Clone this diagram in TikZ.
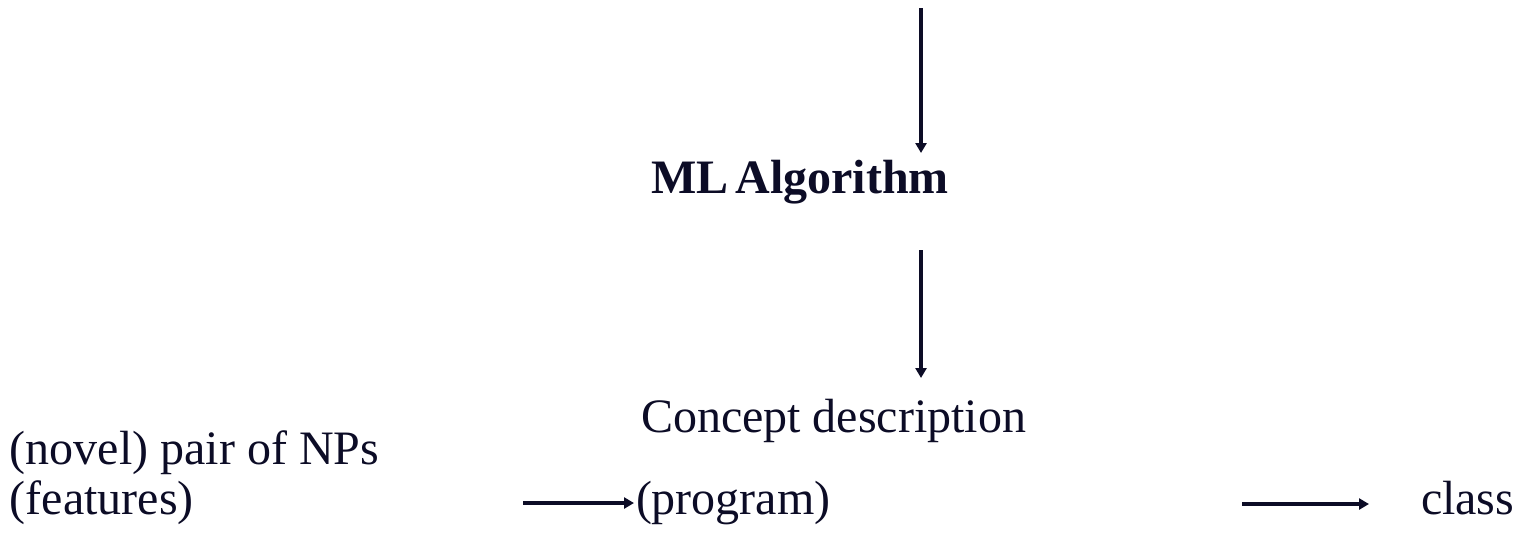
\documentclass[tikz,border=0pt]{standalone}
\usepackage{fontspec}
\setmainfont{Liberation Serif}
\usetikzlibrary{arrows.meta}
\definecolor{ink}{RGB}{12,12,38}
\begin{document}
\begin{tikzpicture}[x=0.5pt,y=-0.5pt,
  lbl/.style={inner sep=0pt,outer sep=0pt,text=ink,font=\fontsize{24}{25}\selectfont},
  conn/.style={draw=ink,line width=1.7pt,-{Triangle[length=5pt,width=5.5pt]}}]
\useasboundingbox (0,0) rectangle (1518,532);
\node[lbl,anchor=base,font=\fontsize{24}{25}\selectfont\bfseries] (ml) at (800,193) {ML\kern-0.1em\ Algorithm};
\node[lbl,anchor=base west] (concept) at (641,432) {Concept description};
\node[lbl,anchor=base west,align=left] (novel) at (10,514) {(novel) pair of NPs\\(features)};
\node[lbl,anchor=base west] (program) at (636,514) {(program)};
\node[lbl,anchor=base west] (class) at (1421,514) {class};
\coordinate (top) at (921,8);
\coordinate (mltip) at (921,153);
\coordinate (mlout) at (921,250);
\coordinate (ctip) at (921,378);
\coordinate (h1s) at (523,503);
\coordinate (h1e) at (634,503);
\coordinate (h2s) at (1242,504);
\coordinate (h2e) at (1369,504);
\draw[conn] (top) -- (mltip);
\draw[conn] (mlout) -- (ctip);
\draw[conn] (h1s) -- (h1e);
\draw[conn] (h2s) -- (h2e);
\end{tikzpicture}
\end{document}
